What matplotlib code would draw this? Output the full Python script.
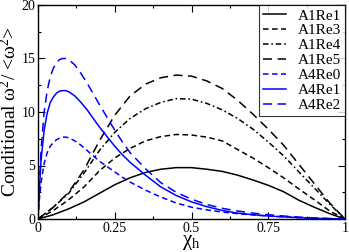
import matplotlib
matplotlib.use("Agg")
import matplotlib.pyplot as plt

# ---------------- data ----------------
x_a1 = [0.0, 0.05, 0.1, 0.15, 0.2, 0.25, 0.3, 0.35, 0.4, 0.45, 0.5,
        0.55, 0.6, 0.65, 0.7, 0.75, 0.8, 0.85, 0.9, 0.95, 1.0]
a1re1 = [0.0, 0.4, 0.95, 1.6, 2.4, 3.2, 3.85, 4.35, 4.65, 4.8, 4.8,
         4.65, 4.45, 4.1, 3.65, 3.15, 2.55, 1.75, 1.1, 0.5, 0.0]
a1re3 = [0.0, 0.8, 1.8, 3.0, 4.5, 5.7, 6.6, 7.3, 7.7, 7.9, 7.85,
         7.65, 7.3, 6.5, 5.7, 4.8, 3.85, 2.8, 1.8, 0.75, 0.0]
a1re4 = [0.0, 1.1, 2.4, 4.3, 6.4, 8.1, 9.4, 10.3, 10.9, 11.25, 11.2,
         10.8, 10.2, 9.4, 8.4, 7.2, 5.9, 4.4, 2.9, 1.4, 0.0]
a1re5 = [0.0, 1.1, 2.5, 4.6, 7.3, 9.7, 11.5, 12.6, 13.2, 13.45, 13.35,
         12.9, 12.2, 11.1, 9.8, 8.4, 6.9, 5.1, 3.3, 1.5, 0.0]

x_a4 = [0.0, 0.005, 0.01, 0.02, 0.03, 0.04, 0.05, 0.06, 0.07, 0.08, 0.09,
        0.1, 0.12, 0.14, 0.16, 0.18, 0.2, 0.225, 0.25, 0.275, 0.3, 0.35,
        0.4, 0.45, 0.5, 0.55, 0.6, 0.65, 0.7, 0.75, 0.8, 0.85, 0.9, 0.95, 1.0]
a4re0 = [0.0, 2.0, 3.4, 5.2, 6.2, 6.8, 7.15, 7.4, 7.55, 7.65, 7.65,
         7.6, 7.3, 6.9, 6.4, 5.9, 5.4, 4.9, 4.4, 3.9, 3.45, 2.7,
         2.05, 1.5, 1.1, 0.85, 0.65, 0.5, 0.38, 0.28, 0.2, 0.13, 0.07, 0.03, 0.0]
a4re1 = [0.0, 3.0, 5.5, 8.3, 9.9, 10.9, 11.4, 11.75, 11.95, 12.0, 12.0,
         11.9, 11.5, 10.9, 10.2, 9.4, 8.6, 7.7, 6.8, 6.0, 5.3, 4.1,
         3.0, 2.2, 1.6, 1.15, 0.8, 0.55, 0.4, 0.28, 0.2, 0.12, 0.07, 0.03, 0.0]
a4re2 = [0.0, 3.5, 6.5, 10.0, 12.0, 13.3, 14.1, 14.6, 14.9, 15.0, 15.0,
         14.9, 14.4, 13.6, 12.7, 11.7, 10.7, 9.5, 8.3, 7.2, 6.2, 4.7,
         3.4, 2.5, 1.85, 1.35, 1.0, 0.75, 0.55, 0.4, 0.28, 0.18, 0.1, 0.04, 0.0]

x_ticks = [0, 0.25, 0.5, 0.75, 1]
x_tick_labels = ["0", "0.25", "0.5", "0.75", "1"]
y_ticks = [0, 5, 10, 15, 20]
y_tick_labels = ["0", "5", "10", "15", "20"]

# ---------------- style ----------------
plt.rcParams["font.family"] = ["Liberation Serif", "DejaVu Serif"]
plt.rcParams["mathtext.fontset"] = "custom"
plt.rcParams["mathtext.rm"] = "Liberation Serif"
plt.rcParams["mathtext.it"] = "Liberation Serif:italic"
plt.rcParams["lines.scale_dashes"] = False

fig = plt.figure(figsize=(3.49, 2.52), dpi=100)
ax = fig.add_axes([38 / 349, 1 - 219 / 252, 307 / 349, 214 / 252])

lw = 1.1
short_dash = (0, (4.0, 2.5))
long_dash = (0, (6.5, 4.0))
dash_dot = (0, (4.0, 2.0, 1.2, 2.0))

ax.plot(x_a1, a1re1, color="black", lw=lw, ls="-", label="A1Re1")
ax.plot(x_a1, a1re3, color="black", lw=lw, ls=short_dash, label="A1Re3")
ax.plot(x_a1, a1re4, color="black", lw=lw, ls=dash_dot, label="A1Re4")
ax.plot(x_a1, a1re5, color="black", lw=lw, ls=long_dash, label="A1Re5")
ax.plot(x_a4, a4re0, color="#0000ff", lw=lw, ls=short_dash, label="A4Re0")
ax.plot(x_a4, a4re1, color="#0000ff", lw=lw, ls="-", label="A4Re1")
ax.plot(x_a4, a4re2, color="#0000ff", lw=lw, ls=long_dash, label="A4Re2")

ax.set_xlim(0, 1)
ax.set_ylim(0, 20)
ax.set_xticks(x_ticks)
ax.set_xticklabels(x_tick_labels)
ax.set_yticks(y_ticks)
ax.set_yticklabels(y_tick_labels)
ax.set_xticks([0.125, 0.375, 0.625, 0.875], minor=True)
ax.set_yticks([2.5, 7.5, 12.5, 17.5], minor=True)
ax.tick_params(which="both", direction="in", top=True, right=True,
               labelsize=10, width=0.8, pad=2)
ax.tick_params(which="major", length=5)
ax.tick_params(which="minor", length=2.5)
for s in ax.spines.values():
    s.set_linewidth(1.0)

ax.set_ylabel("Conditional ω$^{2}$/ <ω$^{2}$>", fontsize=14, labelpad=1)
ax.set_xlabel("χ$_{\\mathrm{h}}$", fontsize=15, labelpad=-1)

leg = ax.legend(loc="upper right", bbox_to_anchor=(1.0, 1.0), fontsize=11,
                frameon=True, fancybox=False, edgecolor="black",
                borderaxespad=0.0, labelspacing=0.08, handlelength=1.5,
                handletextpad=0.8, borderpad=0.25)
leg.get_frame().set_linewidth(0.8)

fig.savefig("out.png", dpi=100)
